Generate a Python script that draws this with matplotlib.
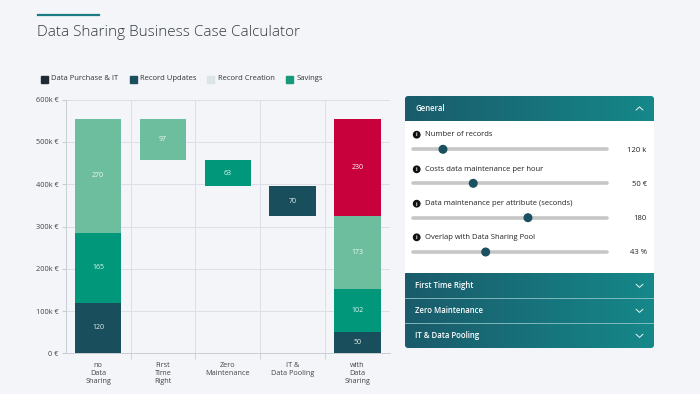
import numpy as np
import matplotlib
matplotlib.use("Agg")
import matplotlib.pyplot as plt
from matplotlib.patches import FancyBboxPatch, Circle, Rectangle
from matplotlib.colors import LinearSegmentedColormap

plt.rcParams['font.family'] = ['Open Sans', 'DejaVu Sans']

# chart data (k€)
categories = ["no\nData\nSharing", "First\nTime\nRight", "Zero\nMaintenance",
              "IT &\nData Pooling", "with\nData\nSharing"]
no_sharing = [120, 165, 270]          # dark, teal, light
steps = [97, 63, 70]                  # first time right, zero maint., it & pooling
step_colors = ["light", "teal", "dark"]
with_sharing = [50, 102, 173, 230]    # dark, teal, light, red
y_ticks = [0, 100, 200, 300, 400, 500, 600]

legend_labels = ["Data Purchase & IT", "Record Updates", "Record Creation", "Savings"]
legend_colors = ["#1f2a36", "#1b4f5e", "#dde5e4", "#17997a"]

# side panel data
slider_labels = ["Number of records", "Costs data maintenance per hour",
                 "Data maintenance per attribute (seconds)", "Overlap with Data Sharing Pool"]
slider_values = ["120 k", "50 €", "180", "43 %"]
slider_pos = [0.153, 0.309, 0.591, 0.373]
sections = ["First Time Right", "Zero Maintenance", "IT & Data Pooling"]

colors = {"dark": "#194f5c", "teal": "#00977a", "light": "#6dbe9e", "red": "#c8003c"}
bg = "#f3f5f9"

fig = plt.figure(figsize=(7, 3.94), dpi=100, facecolor=bg)

# header line + title
fig.add_artist(plt.Line2D([38 / 700, 99 / 700], [1 - 15 / 394] * 2, color="#1a7d84", lw=1.6))
fig.text(37 / 700, 1 - 33 / 394, "Data Sharing Business Case Calculator", fontsize=11,
         color="#333a40", va="center", ha="left", fontweight="light")

# legend
lx = [41, 130, 207, 286]
for x, lab, c in zip(lx, legend_labels, legend_colors):
    fig.add_artist(Rectangle((x / 700, 1 - 82.5 / 394), 7 / 700, 7 / 394, color=c,
                             transform=fig.transFigure))
    fig.text((x + 10.5) / 700, 1 - 79 / 394, lab, fontsize=5.5, color="#333", va="center")

# main chart
ax = fig.add_axes([65.7 / 700, 1 - 353.3 / 394, 324.3 / 700, 253.6 / 394])
ax.set_facecolor("none")
w = 0.72

def seg(x, bottom, v, key):
    ax.bar(x, v, bottom=bottom, width=w, color=colors[key], zorder=3)
    ax.text(x, bottom + v / 2, str(v), ha="center", va="center", fontsize=5,
            color="white", alpha=0.9 if key != "red" else 1, zorder=4)

b = 0
for v, k in zip(no_sharing, ["dark", "teal", "light"]):
    seg(0, b, v, k)
    b += v
run = b
for i, (v, k) in enumerate(zip(steps, step_colors)):
    run -= v
    seg(i + 1, run, v, k)
b = 0
for v, k in zip(with_sharing, ["dark", "teal", "light", "red"]):
    seg(4, b, v, k)
    b += v

ax.set_xlim(-0.5, 4.5)
ax.set_ylim(0, 600)
ax.set_yticks(y_ticks)
ax.set_yticklabels([f"{t}k €" if t else "0 €" for t in y_ticks])
ax.set_xticks(range(5))
ax.set_xticklabels(categories, linespacing=1.2)
ax.set_xticks([0.5, 1.5, 2.5, 3.5], minor=True)
ax.tick_params(axis="x", which="major", length=0, labelsize=5.2, colors="#444", pad=6)
ax.tick_params(axis="x", which="minor", length=4, color="#c8ccd3")
ax.tick_params(axis="y", length=3, color="#c8ccd3", labelsize=5.3, labelcolor="#444", pad=2)
for y in y_ticks[1:]:
    ax.axhline(y, color="#dcdfe5", lw=0.7, zorder=1)
for x in [0.5, 1.5, 2.5, 3.5]:
    ax.axvline(x, color="#dcdfe5", lw=0.7, zorder=1)
for s in ["top", "right"]:
    ax.spines[s].set_visible(False)
for s in ["left", "bottom"]:
    ax.spines[s].set_color("#c8ccd3")
    ax.spines[s].set_linewidth(0.7)

# side panel (pixel coordinates)
px = fig.add_axes([405 / 700, 1 - 348 / 394, 249 / 700, 252 / 394])
px.set_xlim(405, 654)
px.set_ylim(348, 96)
px.axis("off")
panel = FancyBboxPatch((405, 96), 249, 252, boxstyle="round,pad=0,rounding_size=3",
                       facecolor="white", edgecolor="none", zorder=1)
px.add_patch(panel)
cmap = LinearSegmentedColormap.from_list("hdr", ["#1a5b6b", "#15888a"])
grad = np.linspace(0, 1, 256).reshape(1, -1)
for y0, y1 in [(96, 121), (273, 348)]:
    im = px.imshow(grad, cmap=cmap, extent=(405, 654, y1, y0), aspect="auto", zorder=2)
    im.set_clip_path(panel)
px.set_xlim(405, 654)
px.set_ylim(348, 96)

def chevron(y, up):
    d = -1.6 if up else 1.6
    px.plot([636, 639.5, 643], [y - d, y + d, y - d], color="white", lw=0.7, zorder=4,
            solid_capstyle="round", alpha=0.9)

px.text(415, 108.5, "General", color="white", fontsize=5.6, fontweight="semibold",
        va="center", zorder=4)
chevron(108.5, True)

label_y = [134.7, 169.3, 203.7, 237.3]
track_y = [149.3, 183.3, 217.7, 252]
for lab, val, p, ly, ty in zip(slider_labels, slider_values, slider_pos, label_y, track_y):
    px.add_patch(Circle((416.7, ly), 3.2, color="#111", zorder=4))
    px.text(416.7, ly + 0.3, "i", color="white", fontsize=3.8, fontweight="bold",
            ha="center", va="center", zorder=5)
    px.text(424.5, ly, lab, fontsize=5.5, color="#222", va="center", zorder=4)
    px.plot([413.3, 607.3], [ty, ty], color="#c6c6c6", lw=2.6, solid_capstyle="round", zorder=3)
    px.add_patch(Circle((413.3 + p * 194, ty), 3.8, color="#1a5060", zorder=4))
    px.text(646.7, ty + 1, val, fontsize=5.5, color="#222", ha="right", va="center", zorder=4)

for i, name in enumerate(sections):
    yc = 273.3 + 25 * i + 12.5
    px.text(415, yc, name, color="white", fontsize=5.6, fontweight="semibold",
            va="center", zorder=4)
    chevron(yc, False)
    if i:
        px.plot([405, 654], [273.3 + 25 * i] * 2, color="#8fc3c6", lw=0.6, zorder=3)

fig.savefig("out.png", dpi=100, facecolor=bg)
